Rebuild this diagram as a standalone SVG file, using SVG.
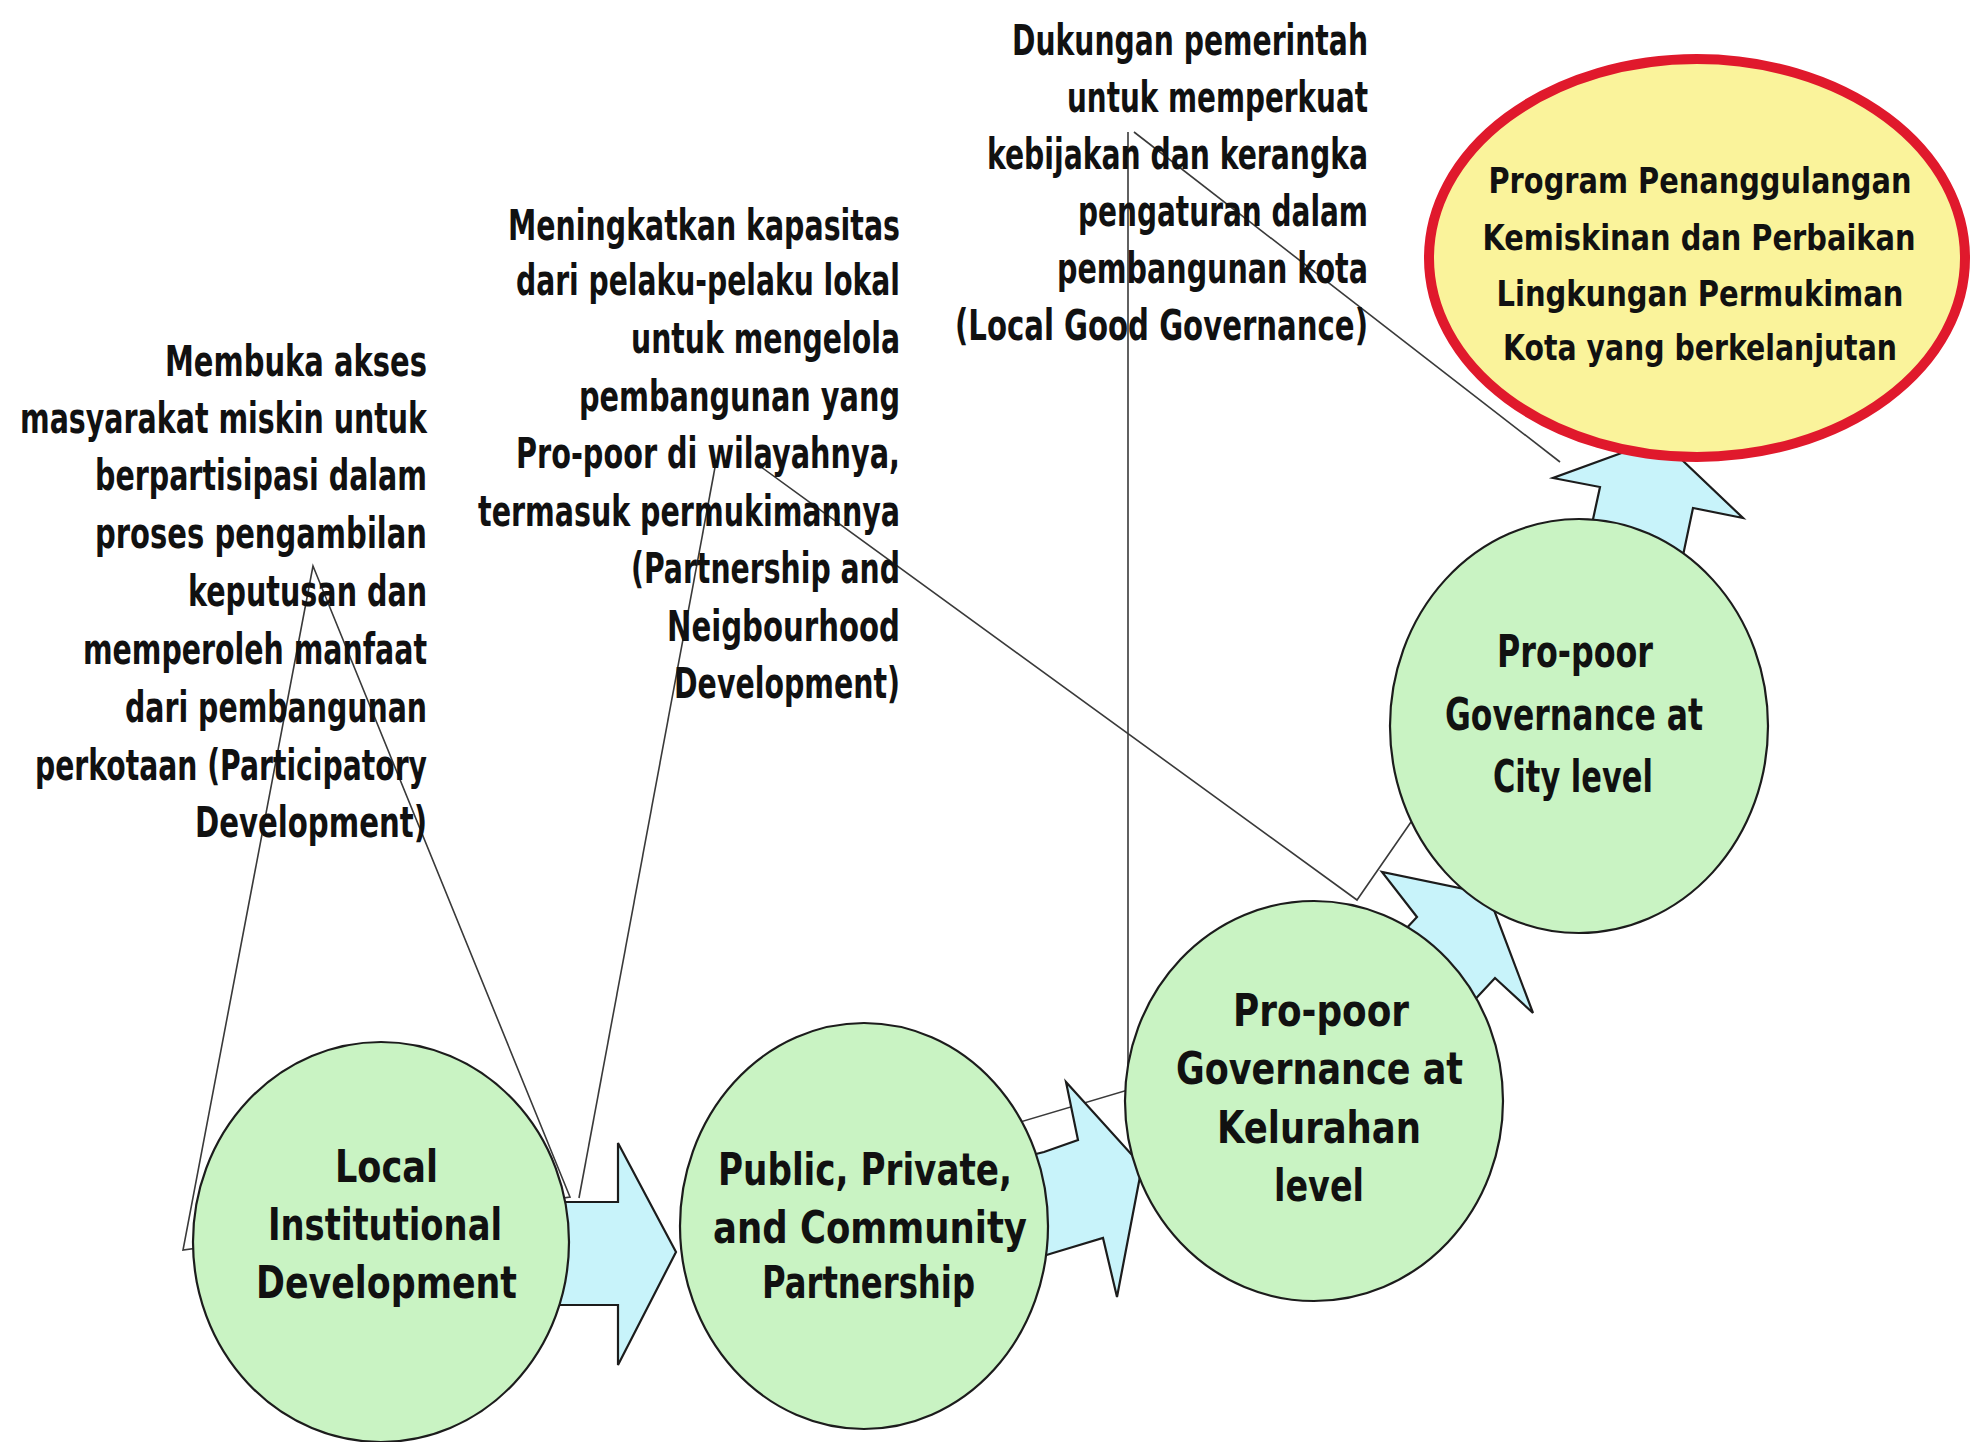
<svg xmlns="http://www.w3.org/2000/svg" width="1977" height="1442" viewBox="0 0 1977 1442">
<style>
  .node ellipse { fill:#c9f3c3; stroke:#1c1c1c; stroke-width:2.2; }
  .goal ellipse { fill:#faf39b; stroke:#e0192c; stroke-width:10; }
  .arrow { fill:#c8f3fa; stroke:#1c1c1c; stroke-width:2.2; stroke-linejoin:miter; }
  .conn { fill:none; stroke:#3a3a3a; stroke-width:1.6; }
  text { font-family:"Liberation Sans Narrow","DejaVu Sans Condensed","Liberation Sans",sans-serif; font-weight:bold; fill:#111; }
  .c { font-size:42px; }
  .n { font-size:44px; }
  .g { font-size:36px; text-anchor:middle; }
</style>
<rect width="1977" height="1442" fill="#ffffff"/>

<g id="connectors">
  <polygon class="conn" points="313,566 183,1250 570,1197"/>
  <polyline class="conn" points="579,1198 716,462"/>
  <polyline class="conn" points="757,464 1357,900 1411,822"/>
  <polyline class="conn" points="1000,1128 1128,1090 1128,132"/>
  <polyline class="conn" points="1134,132 1560,462"/>
  <polygon class="arrow" points="540,1202 618,1202 618,1143 676,1252 618,1365 618,1305 540,1305"/>
  <polygon class="arrow" points="995,1164 1044,1152 1078,1140 1066,1082 1142,1166 1117,1297 1103,1238 1053,1253 1004,1268"/>
  <polygon class="arrow" points="1362,976 1417,917 1382,872 1488,894 1533,1013 1495,978 1440,1037"/>
  <polygon class="arrow" points="1587,547 1600,487 1553,478 1660,439 1743,518 1693,508 1681,565"/>
</g>

<g id="callout-participatory">
  <text class="c" x="165" y="376" textLength="262" lengthAdjust="spacingAndGlyphs">Membuka akses</text>
  <text class="c" x="20" y="433" textLength="407" lengthAdjust="spacingAndGlyphs">masyarakat miskin untuk</text>
  <text class="c" x="95" y="490" textLength="332" lengthAdjust="spacingAndGlyphs">berpartisipasi dalam</text>
  <text class="c" x="95" y="548" textLength="332" lengthAdjust="spacingAndGlyphs">proses pengambilan</text>
  <text class="c" x="188" y="606" textLength="239" lengthAdjust="spacingAndGlyphs">keputusan dan</text>
  <text class="c" x="83" y="664" textLength="344" lengthAdjust="spacingAndGlyphs">memperoleh manfaat</text>
  <text class="c" x="125" y="722" textLength="302" lengthAdjust="spacingAndGlyphs">dari pembangunan</text>
  <text class="c" x="35" y="780" textLength="392" lengthAdjust="spacingAndGlyphs">perkotaan (Participatory</text>
  <text class="c" x="195" y="837" textLength="232" lengthAdjust="spacingAndGlyphs">Development)</text>
</g>

<g id="callout-partnership">
  <text class="c" x="508" y="240" textLength="392" lengthAdjust="spacingAndGlyphs">Meningkatkan kapasitas</text>
  <text class="c" x="516" y="295" textLength="384" lengthAdjust="spacingAndGlyphs">dari pelaku-pelaku lokal</text>
  <text class="c" x="631" y="353" textLength="269" lengthAdjust="spacingAndGlyphs">untuk mengelola</text>
  <text class="c" x="579" y="411" textLength="321" lengthAdjust="spacingAndGlyphs">pembangunan yang</text>
  <text class="c" x="516" y="468" textLength="384" lengthAdjust="spacingAndGlyphs">Pro-poor di wilayahnya,</text>
  <text class="c" x="478" y="526" textLength="422" lengthAdjust="spacingAndGlyphs">termasuk permukimannya</text>
  <text class="c" x="631" y="583" textLength="269" lengthAdjust="spacingAndGlyphs">(Partnership and</text>
  <text class="c" x="667" y="641" textLength="233" lengthAdjust="spacingAndGlyphs">Neigbourhood</text>
  <text class="c" x="674" y="698" textLength="226" lengthAdjust="spacingAndGlyphs">Development)</text>
</g>

<g id="callout-governance">
  <text class="c" x="1012" y="55" textLength="356" lengthAdjust="spacingAndGlyphs">Dukungan pemerintah</text>
  <text class="c" x="1067" y="112" textLength="301" lengthAdjust="spacingAndGlyphs">untuk memperkuat</text>
  <text class="c" x="987" y="169" textLength="381" lengthAdjust="spacingAndGlyphs">kebijakan dan kerangka</text>
  <text class="c" x="1078" y="226" textLength="290" lengthAdjust="spacingAndGlyphs">pengaturan dalam</text>
  <text class="c" x="1057" y="283" textLength="311" lengthAdjust="spacingAndGlyphs">pembangunan kota</text>
  <text class="c" x="955" y="340" textLength="413" lengthAdjust="spacingAndGlyphs">(Local Good Governance)</text>
</g>

<g id="node-local" class="node">
  <ellipse cx="381" cy="1242" rx="188" ry="200"/>
  <text class="n" x="335" y="1182" textLength="103" lengthAdjust="spacingAndGlyphs">Local</text>
  <text class="n" x="268" y="1240" textLength="234" lengthAdjust="spacingAndGlyphs">Institutional</text>
  <text class="n" x="256" y="1298" textLength="261" lengthAdjust="spacingAndGlyphs">Development</text>
</g>

<g id="node-partnership" class="node">
  <ellipse cx="864" cy="1226" rx="184" ry="203"/>
  <text class="n" x="718" y="1185" textLength="294" lengthAdjust="spacingAndGlyphs">Public, Private,</text>
  <text class="n" x="713" y="1243" textLength="314" lengthAdjust="spacingAndGlyphs">and Community</text>
  <text class="n" x="762" y="1298" textLength="213" lengthAdjust="spacingAndGlyphs">Partnership</text>
</g>

<g id="node-kelurahan" class="node">
  <ellipse cx="1314" cy="1101" rx="189" ry="200"/>
  <text class="n" x="1233" y="1026" textLength="176" lengthAdjust="spacingAndGlyphs">Pro-poor</text>
  <text class="n" x="1176" y="1084" textLength="287" lengthAdjust="spacingAndGlyphs">Governance at</text>
  <text class="n" x="1217" y="1143" textLength="204" lengthAdjust="spacingAndGlyphs">Kelurahan</text>
  <text class="n" x="1274" y="1201" textLength="90" lengthAdjust="spacingAndGlyphs">level</text>
</g>

<g id="node-city" class="node">
  <ellipse cx="1579" cy="726" rx="189" ry="207"/>
  <text class="n" x="1497" y="667" textLength="156" lengthAdjust="spacingAndGlyphs">Pro-poor</text>
  <text class="n" x="1445" y="730" textLength="258" lengthAdjust="spacingAndGlyphs">Governance at</text>
  <text class="n" x="1493" y="792" textLength="160" lengthAdjust="spacingAndGlyphs">City level</text>
</g>

<g id="node-goal" class="goal">
  <ellipse cx="1697" cy="258" rx="268" ry="199"/>
  <text class="g" x="1700" y="193" textLength="423" lengthAdjust="spacingAndGlyphs">Program Penanggulangan</text>
  <text class="g" x="1699" y="250" textLength="433" lengthAdjust="spacingAndGlyphs">Kemiskinan dan Perbaikan</text>
  <text class="g" x="1700" y="306" textLength="407" lengthAdjust="spacingAndGlyphs">Lingkungan Permukiman</text>
  <text class="g" x="1700" y="360" textLength="394" lengthAdjust="spacingAndGlyphs">Kota yang berkelanjutan</text>
</g>
</svg>
